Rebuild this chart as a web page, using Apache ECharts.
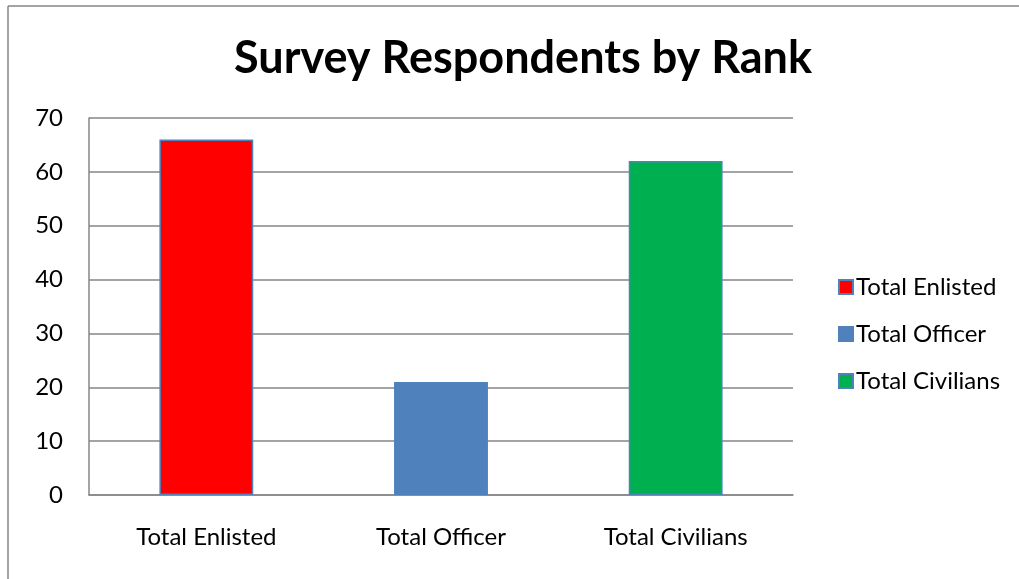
<!DOCTYPE html>
<html>
<head>
<meta charset="utf-8">
<script src="https://cdn.jsdelivr.net/npm/echarts@6/dist/echarts.min.js"></script>
<style>
  html, body { margin: 0; padding: 0; background: #fff; }
  #chart { width: 1019px; height: 579px; }
</style>
</head>
<body>
<div id="chart"></div>
<script>
const categories = ['Total Enlisted', 'Total Officer', 'Total Civilians'];
const respondents = [66, 21, 62];
const barColors = ['#FF0000', '#4F81BD', '#00B050'];
const yTicks = { min: 0, max: 70, interval: 10 };

const FONT = 'Lato, "Open Sans", sans-serif';
const chart = echarts.init(document.getElementById('chart'));

// one series per category so each gets its own legend entry
const series = categories.map((name, i) => ({
  name: name,
  type: 'bar',
  stack: 'all',
  barWidth: '40%',
  data: categories.map((c, j) => (j === i ? respondents[i] : null)),
  itemStyle: { color: barColors[i], borderColor: '#4F81BD', borderWidth: 1.5 }
}));

chart.setOption({
  animation: false,
  title: {
    text: 'Survey Respondents by Rank',
    left: 229,
    top: 31,
    textStyle: { fontFamily: FONT, fontSize: 45, fontWeight: 'bold', color: '#000' }
  },
  legend: {
    orient: 'vertical',
    left: 833,
    top: 270,
    itemGap: 23,
    itemWidth: 14,
    itemHeight: 14,
    icon: 'rect',
    textStyle: { fontFamily: FONT, fontSize: 24, color: '#000', padding: [0, 0, 0, -2] },
    data: categories
  },
  grid: { left: 89, right: 226, top: 118, bottom: 84 },
  xAxis: {
    type: 'category',
    data: categories,
    axisTick: { show: false },
    axisLine: { lineStyle: { color: '#868686', width: 1.5 } },
    axisLabel: { fontFamily: FONT, fontSize: 24, color: '#000', margin: 30 }
  },
  yAxis: {
    type: 'value',
    min: yTicks.min,
    max: yTicks.max,
    interval: yTicks.interval,
    axisLine: { show: true, lineStyle: { color: '#868686', width: 1.5 } },
    axisTick: { show: false },
    splitLine: { lineStyle: { color: '#868686', width: 1.5 } },
    axisLabel: { fontFamily: FONT, fontSize: 24, color: '#000', margin: 26 }
  },
  graphic: [
    { type: 'line', shape: { x1: 8, y1: 6, x2: 1019, y2: 6 }, style: { stroke: '#868686', lineWidth: 1.5 } },
    { type: 'line', shape: { x1: 8, y1: 6, x2: 8, y2: 579 }, style: { stroke: '#868686', lineWidth: 1.5 } }
  ],
  series: series
});
</script>
</body>
</html>
